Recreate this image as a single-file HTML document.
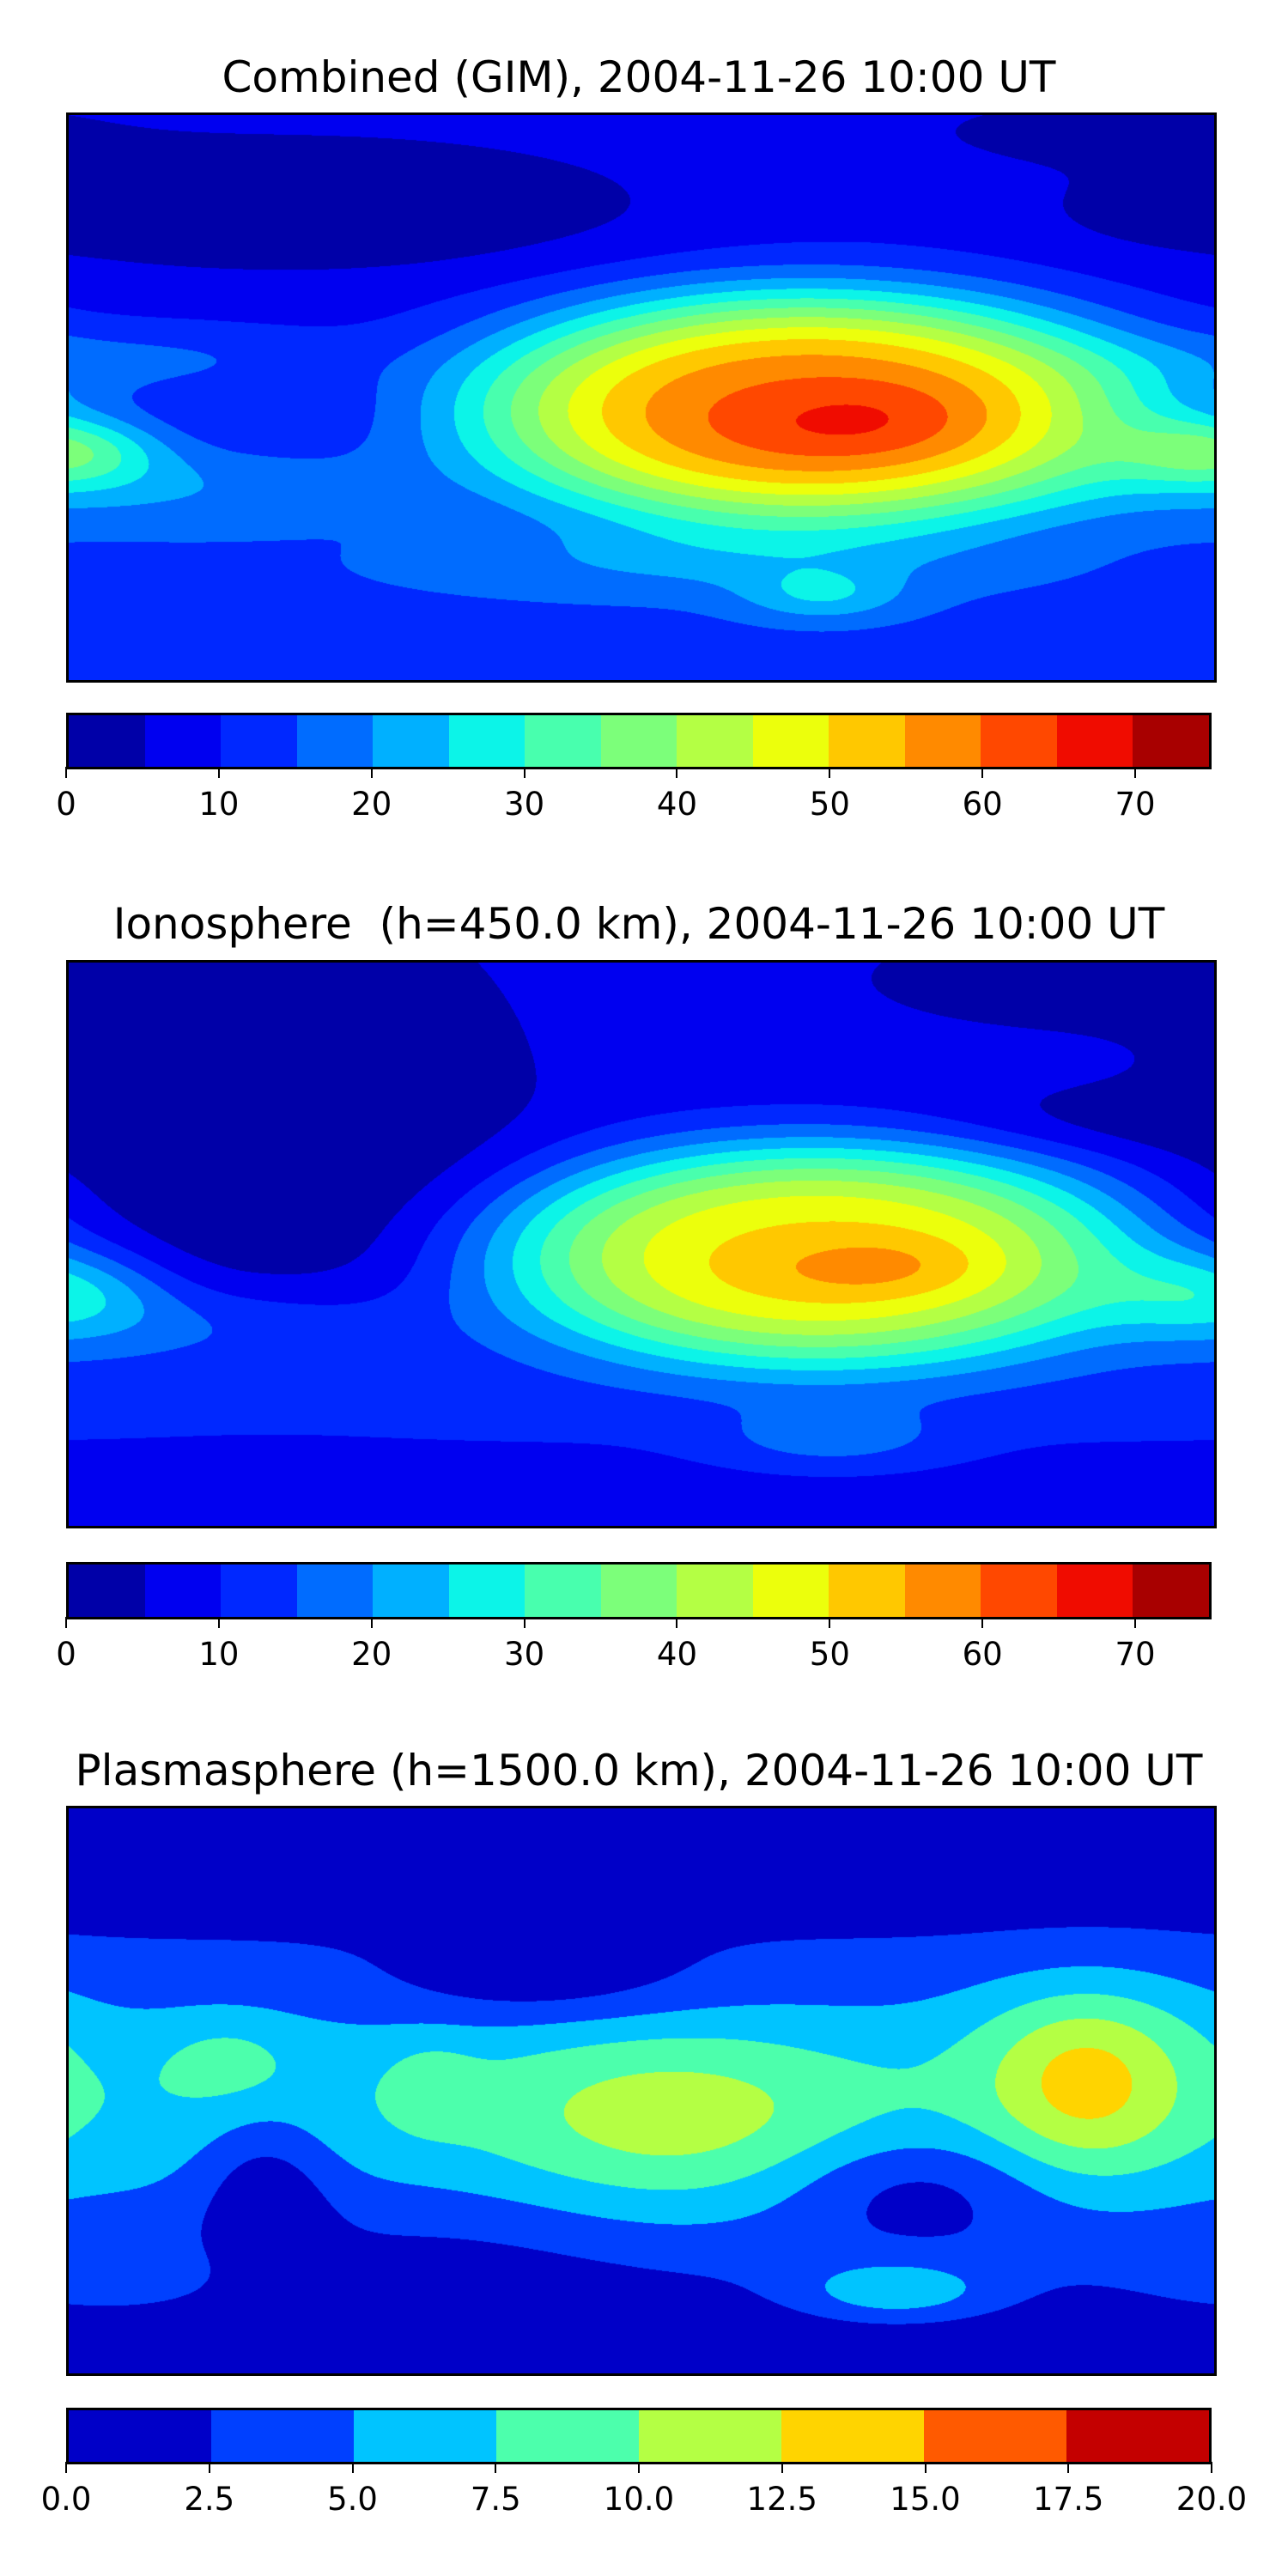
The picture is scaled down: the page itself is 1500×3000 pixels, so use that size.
<!DOCTYPE html>
<html><head><meta charset="utf-8">
<style>
body{margin:0;background:#fff;width:1500px;height:3000px;position:relative;overflow:hidden;font-family:"DejaVu Sans","Liberation Sans",sans-serif;}
.title{position:absolute;left:0;width:1488px;text-align:center;font-size:50px;color:#000;line-height:56px;white-space:nowrap;}
canvas{position:absolute;left:77px;box-sizing:border-box;border:3px solid #000;}
.cbar{position:absolute;left:77px;width:1334px;border:3px solid #000;box-sizing:border-box;display:flex;}
.cbar div{flex:1;height:100%;}
.tick{position:absolute;width:2px;height:13px;background:#000;}
.tl{position:absolute;font-size:37px;width:120px;text-align:center;line-height:40px;}
</style></head><body>
<div class="title" style="top:62px">Combined (GIM), 2004-11-26 10:00 UT</div>
<canvas id="m1" width="1334" height="658" style="top:131px"></canvas>
<div class="cbar" id="c1" style="top:830px;height:66px"></div>

<div class="title" style="top:1048px">Ionosphere&nbsp; (h=450.0 km), 2004-11-26 10:00 UT</div>
<canvas id="m2" width="1334" height="656" style="top:1118px"></canvas>
<div class="cbar" id="c2" style="top:1819px;height:67px"></div>

<div class="title" style="top:2034px">Plasmasphere (h=1500.0 km), 2004-11-26 10:00 UT</div>
<canvas id="m3" width="1334" height="658" style="top:2103px"></canvas>
<div class="cbar" id="c3" style="top:2804px;height:66px"></div>

<script>
const jet15 = ["#0000a8","#0000f0","#0028ff","#006cff","#00b0ff","#0cf4e8","#48ffae","#7cff7a","#b4ff44","#ecff0c","#ffc800","#ff8a00","#ff4800","#f00c00","#a80000"];
const jet8 = ["#0000c8","#0040ff","#00c4ff","#4cffac","#b4ff44","#ffd400","#ff5a00","#c40000"];
const ticks1 = [0,10,20,30,40,50,60,70];
const ticks3 = ["0.0","2.5","5.0","7.5","10.0","12.5","15.0","17.5","20.0"];
const tickVals3 = [0,2.5,5,7.5,10,12.5,15,17.5,20];
// Field bumps: [lon, lat, amplitude, sigmaLon, sigmaLat, flatness]
const base1 = 8;
const bumps1 = [
 [52,-3,50,75,26,1.6],[66,-7,7,28,9,1],
 [-110,62,-7,80,16,1.5],[140,85,-5,40,8,1],[170,60,-4,20,6,1],
 [-180,-17,18,20,8,1],[-150,12,7,40,8,1],[-150,-28,8,50,10,1],
 [0,-60,6,1000,30,1],[20,-52,6,60,8,1],[57,-63,10,18,6,1]
];
const base2 = 7;
const bumps2 = [
 [55,-3,43,72,25,1.6],[72,-7,7,25,7,1],
 [-115,40,-7,55,50,1.5],[140,85,-5,50,12,1],[150,40,-4,40,8,1],
 [-180,-15,14,22,10,1],[-140,-25,7,50,10,1],
 [0,-45,5,1000,18,1],[60,-62,8,25,7,1]
];
const base3 = 3;
const bumps3 = [
 [0,-5,4,1000,24,1],[0,80,-3,1000,20,1],[0,-88,-3,1000,18,1],
 [80,-64,5,22,7,1],[-118,-30,-4,15,18,1],[85,-30,-3.5,30,13,1],
 [10,-10,4.5,40,22,1],[140,0,6,22,20,1],[140,20,2,30,15,1],
 [-130,10,2.5,15,10,1],[-66,2,2,10,10,1],[-30,35,-3,35,10,1],[-165,-60,2,25,8,1],
 [-60,-55,-1.5,50,20,1]
];

function field(base,bumps,lon,lat){
  let v=base;
  for(const b of bumps){
    let dl=lon-b[0]; dl=((dl+540)%360)-180;
    const dy=lat-b[1];
    const h=0.5*(dl*dl/(b[3]*b[3])+dy*dy/(b[4]*b[4]));
    v+=b[2]*Math.exp(-Math.pow(h,b[5]));
  }
  return v;
}
function hex(c){return [parseInt(c.slice(1,3),16),parseInt(c.slice(3,5),16),parseInt(c.slice(5,7),16)];}
function drawMap(id,base,bumps,step,cols){
  const cv=document.getElementById(id),ctx=cv.getContext('2d');
  const W=cv.width,H=cv.height,img=ctx.createImageData(W,H),rgb=cols.map(hex);
  for(let y=0;y<H;y++){
    const lat=90-(y+0.5)/H*180;
    for(let x=0;x<W;x++){
      const lon=-180+(x+0.5)/W*360;
      let k=Math.floor(field(base,bumps,lon,lat)/step);
      k=Math.max(0,Math.min(cols.length-1,k));
      const i=(y*W+x)*4,c=rgb[k];
      img.data[i]=c[0];img.data[i+1]=c[1];img.data[i+2]=c[2];img.data[i+3]=255;
    }
  }
  ctx.putImageData(img,0,0);
}
function drawBar(id,cols,vals,labels,vmax,top){
  const bar=document.getElementById(id);
  cols.forEach((c,i)=>{
    const d=document.createElement('div');
    
    
    d.style.background=c;bar.appendChild(d);
  });
  vals.forEach((v,i)=>{
    const x=77+v/vmax*1334;
    const t=document.createElement('div');
    t.className='tick';
    
    
    t.style.left=(x-1)+'px';t.style.top=top+'px';document.body.appendChild(t);
    const l=document.createElement('div');
    l.className='tl';
    
    
    l.textContent=labels[i];l.style.left=(x-60)+'px';l.style.top=(top+24)+'px';document.body.appendChild(l);
  });
}
drawMap('m1',base1,bumps1,5,jet15);
drawMap('m2',base2,bumps2,5,jet15);
drawMap('m3',base3,bumps3,2.5,jet8);
drawBar('c1',jet15,ticks1,ticks1.map(String),75,893);
drawBar('c2',jet15,ticks1,ticks1.map(String),75,1883);
drawBar('c3',jet8,tickVals3,ticks3,20,2867);
</script>
</body></html>
